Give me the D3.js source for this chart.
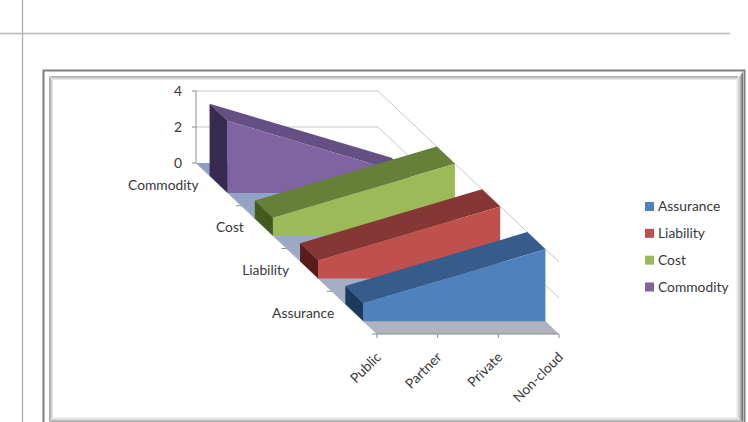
<!DOCTYPE html>
<html>
<head>
<meta charset="utf-8">
<script src="https://cdn.jsdelivr.net/npm/d3@7"></script>
<style>
html,body{margin:0;padding:0;background:#fff;overflow:hidden}
svg{display:block}
text{font-family:Lato,"Open Sans",sans-serif;font-size:13.8px;fill:#383838}
</style>
</head>
<body>
<svg id="chart" width="748" height="422"></svg>
<script>
// Categories and series, back row first
const cloudTypes = ["Public", "Partner", "Private", "Non-cloud"];
const seriesNames = ["Commodity", "Cost", "Liability", "Assurance"];
const legendOrder = ["Assurance", "Liability", "Cost", "Commodity"];
const commodity = [4, 3, 2, 1];
const cost = [1, 2, 3, 4];
const liability = [1, 2, 3, 4];
const assurance = [1, 2, 3, 4];
const valueTicks = [0, 2, 4];

const seriesValues = {Commodity: commodity, Cost: cost, Liability: liability, Assurance: assurance};
const faceColors = {
  Assurance: {front: "#4f81bd", top: "#355c8a", side: "#1b3a5e"},
  Liability: {front: "#c0504d", top: "#863635", side: "#5a1c1b"},
  Cost:      {front: "#9bbb59", top: "#66803a", side: "#435a1c"},
  Commodity: {front: "#8064a2", top: "#645083", side: "#382b52"}
};

const svg = d3.select("#chart");

// Oblique projection: value rises on screen, depth slides the row up and to the left
const x = d3.scalePoint().domain(cloudTypes).range([0, 182]);
const depthX = d3.scaleLinear().domain([0, 1]).range([196, 377]);
const depthY = d3.scaleLinear().domain([0, 1]).range([0, 171]);
const y = d3.scaleLinear().domain([0, 4]).range([163, 91]);
const band = d3.scaleBand().domain(seriesNames).range([0, 1]).paddingInner(0.6).paddingOuter(0.3);
const rowStep = d3.scaleBand().domain(seriesNames).range([0, 1]);

const px = (cat, depth) => depthX(depth) + x(cat);
const py = (val, depth) => y(val) + depthY(depth);
const pt = (cat, val, depth) => [px(cat, depth), py(val, depth)];
const poly = d3.line();

const first = cloudTypes[0], last = cloudTypes[cloudTypes.length - 1];

// Slide frame around the chart
const frame = svg.append("g");
const bevel = (pts, fill) => frame.append("polygon").attr("points", pts.join(" ")).attr("fill", fill);
const defs = svg.append("defs");
function ramp(id, x1, y1, x2, y2, stops) {
  const g = defs.append("linearGradient").attr("id", id).attr("x1", x1).attr("y1", y1).attr("x2", x2).attr("y2", y2);
  stops.forEach(s => g.append("stop").attr("offset", s[0]).attr("stop-color", s[1]));
}
ramp("bevelTop", 0, 0, 0, 1, [[0, "#a8a8a8"], [1, "#f0f0f0"]]);
ramp("bevelLeft", 0, 0, 1, 0, [[0, "#a0a0a0"], [1, "#ececec"]]);
ramp("bevelRight", 0, 0, 1, 0, [[0, "#fafafa"], [0.55, "#c8c8c8"], [1, "#666"]]);
ramp("bevelBottom", 0, 0, 0, 1, [[0, "#fafafa"], [0.6, "#d0d0d0"], [1, "#9c9c9c"]]);
ramp("floorShade", 0, 163, 0, 334, [[0, "#8a9fc6"], [0.55, "#9eaac4"], [1, "#b2b3bf"]]);
defs.select("#floorShade").attr("gradientUnits", "userSpaceOnUse");

frame.append("line").attr("x1", 0).attr("x2", 730).attr("y1", 33.5).attr("y2", 33.5).attr("stroke", "#b8b8b8").attr("stroke-width", 1.4);
frame.append("line").attr("x1", 22.5).attr("x2", 22.5).attr("y1", 0).attr("y2", 422).attr("stroke", "#b4b4b4").attr("stroke-width", 1.4);
frame.append("path").attr("d", "M43.5,422V70.5H744.5V422").attr("fill", "none").attr("stroke", "#808080").attr("stroke-width", 2);
bevel([[50, 76], [738, 76], [738, 80], [53, 80]], "url(#bevelTop)");
bevel([[49, 76], [53, 80], [53, 417], [49, 422]], "url(#bevelLeft)");
bevel([[736, 80], [743, 72], [743, 422], [736, 417]], "url(#bevelRight)");
bevel([[49, 422], [53, 417], [736, 417], [743, 422]], "url(#bevelBottom)");

// Floor
const floorPts = [pt(first, 0, 0), pt(last, 0, 0), pt(last, 0, 1), pt(first, 0, 1)];
svg.append("path").attr("d", poly(floorPts) + "Z").attr("fill", "url(#floorShade)");

// Gridlines along the back and right walls
const gridTicks = valueTicks.filter(v => v > 0);
svg.append("g").selectAll("path").data(gridTicks).join("path")
  .attr("d", v => poly([pt(first, v, 0), pt(last, v, 0), pt(last, v, 1)]))
  .attr("fill", "none").attr("stroke", "#c6c6c6").attr("stroke-width", 1);

// Value axis
const axisColor = "#8c8c8c";
const vAxis = svg.append("g");
vAxis.append("line")
  .attr("x1", px(first, 0)).attr("x2", px(first, 0))
  .attr("y1", y(d3.max(valueTicks))).attr("y2", y(0))
  .attr("stroke", axisColor);
vAxis.selectAll("line.tick").data(valueTicks).join("line").attr("class", "tick")
  .attr("x1", px(first, 0) - 4).attr("x2", px(first, 0))
  .attr("y1", v => y(v)).attr("y2", v => y(v)).attr("stroke", axisColor);
vAxis.selectAll("text").data(valueTicks).join("text")
  .attr("x", px(first, 0) - 14).attr("y", v => y(v)).attr("dy", "0.35em")
  .attr("text-anchor", "end").text(d => d);

// Left floor edge with row ticks and row labels
svg.append("path").attr("d", poly([pt(first, 0, 0), pt(first, 0, 1)])).attr("fill", "none").attr("stroke", "#b8bcc8");
const rowBoundary = s => rowStep(s) + rowStep.bandwidth();
svg.append("g").selectAll("line").data(seriesNames).join("line")
  .attr("x1", s => px(first, rowBoundary(s)) - 5).attr("x2", s => px(first, rowBoundary(s)))
  .attr("y1", s => py(0, rowBoundary(s))).attr("y2", s => py(0, rowBoundary(s)))
  .attr("stroke", axisColor);
svg.append("g").selectAll("text").data(seriesNames).join("text")
  .attr("x", s => px(first, band(s)) - 11)
  .attr("y", s => py(0, band(s)) + 9)
  .attr("dy", "0.35em").attr("text-anchor", "end").text(s => s);

// Area rows, drawn back to front
seriesNames.forEach(name => {
  const vals = seriesValues[name];
  const c = faceColors[name];
  const back = band(name), front = band(name) + band.bandwidth();
  const g = svg.append("g").attr("class", "row");
  const topPts = [
    ...cloudTypes.map((k, i) => pt(k, vals[i], back)),
    ...cloudTypes.map((k, i) => pt(k, vals[i], front)).reverse()
  ];
  g.append("path").attr("d", poly(topPts) + "Z").attr("fill", c.top);
  g.append("path")
    .attr("d", poly([pt(first, 0, back), pt(first, vals[0], back), pt(first, vals[0], front), pt(first, 0, front)]) + "Z")
    .attr("fill", c.side);
  const frontArea = d3.area()
    .x((v, i) => px(cloudTypes[i], front))
    .y0(py(0, front))
    .y1(v => py(v, front));
  g.append("path").attr("d", frontArea(vals)).attr("fill", c.front);
});

// Category axis along the front floor edge
const frontAxis = svg.append("g");
frontAxis.append("line")
  .attr("x1", px(first, 1)).attr("x2", px(last, 1))
  .attr("y1", py(0, 1)).attr("y2", py(0, 1)).attr("stroke", axisColor);
frontAxis.selectAll("line.tick").data(cloudTypes).join("line").attr("class", "tick")
  .attr("x1", k => px(k, 1)).attr("x2", k => px(k, 1))
  .attr("y1", py(0, 1)).attr("y2", py(0, 1) + 4).attr("stroke", axisColor);
frontAxis.selectAll("text").data(cloudTypes).join("text")
  .attr("text-anchor", "end")
  .attr("transform", k => `translate(${px(k, 1) + 5},${py(0, 1) + 24}) rotate(-45)`)
  .text(k => k);

// Legend
const legend = svg.append("g");
const legendRow = d3.scalePoint().domain(legendOrder).range([206.5, 287]);
legend.selectAll("rect").data(legendOrder).join("rect")
  .attr("x", 645).attr("y", s => legendRow(s) - 4.5).attr("width", 9).attr("height", 9)
  .attr("fill", s => faceColors[s].front);
legend.selectAll("text").data(legendOrder).join("text")
  .attr("x", 658).attr("y", s => legendRow(s)).attr("dy", "0.35em").text(s => s);
</script>
</body>
</html>
